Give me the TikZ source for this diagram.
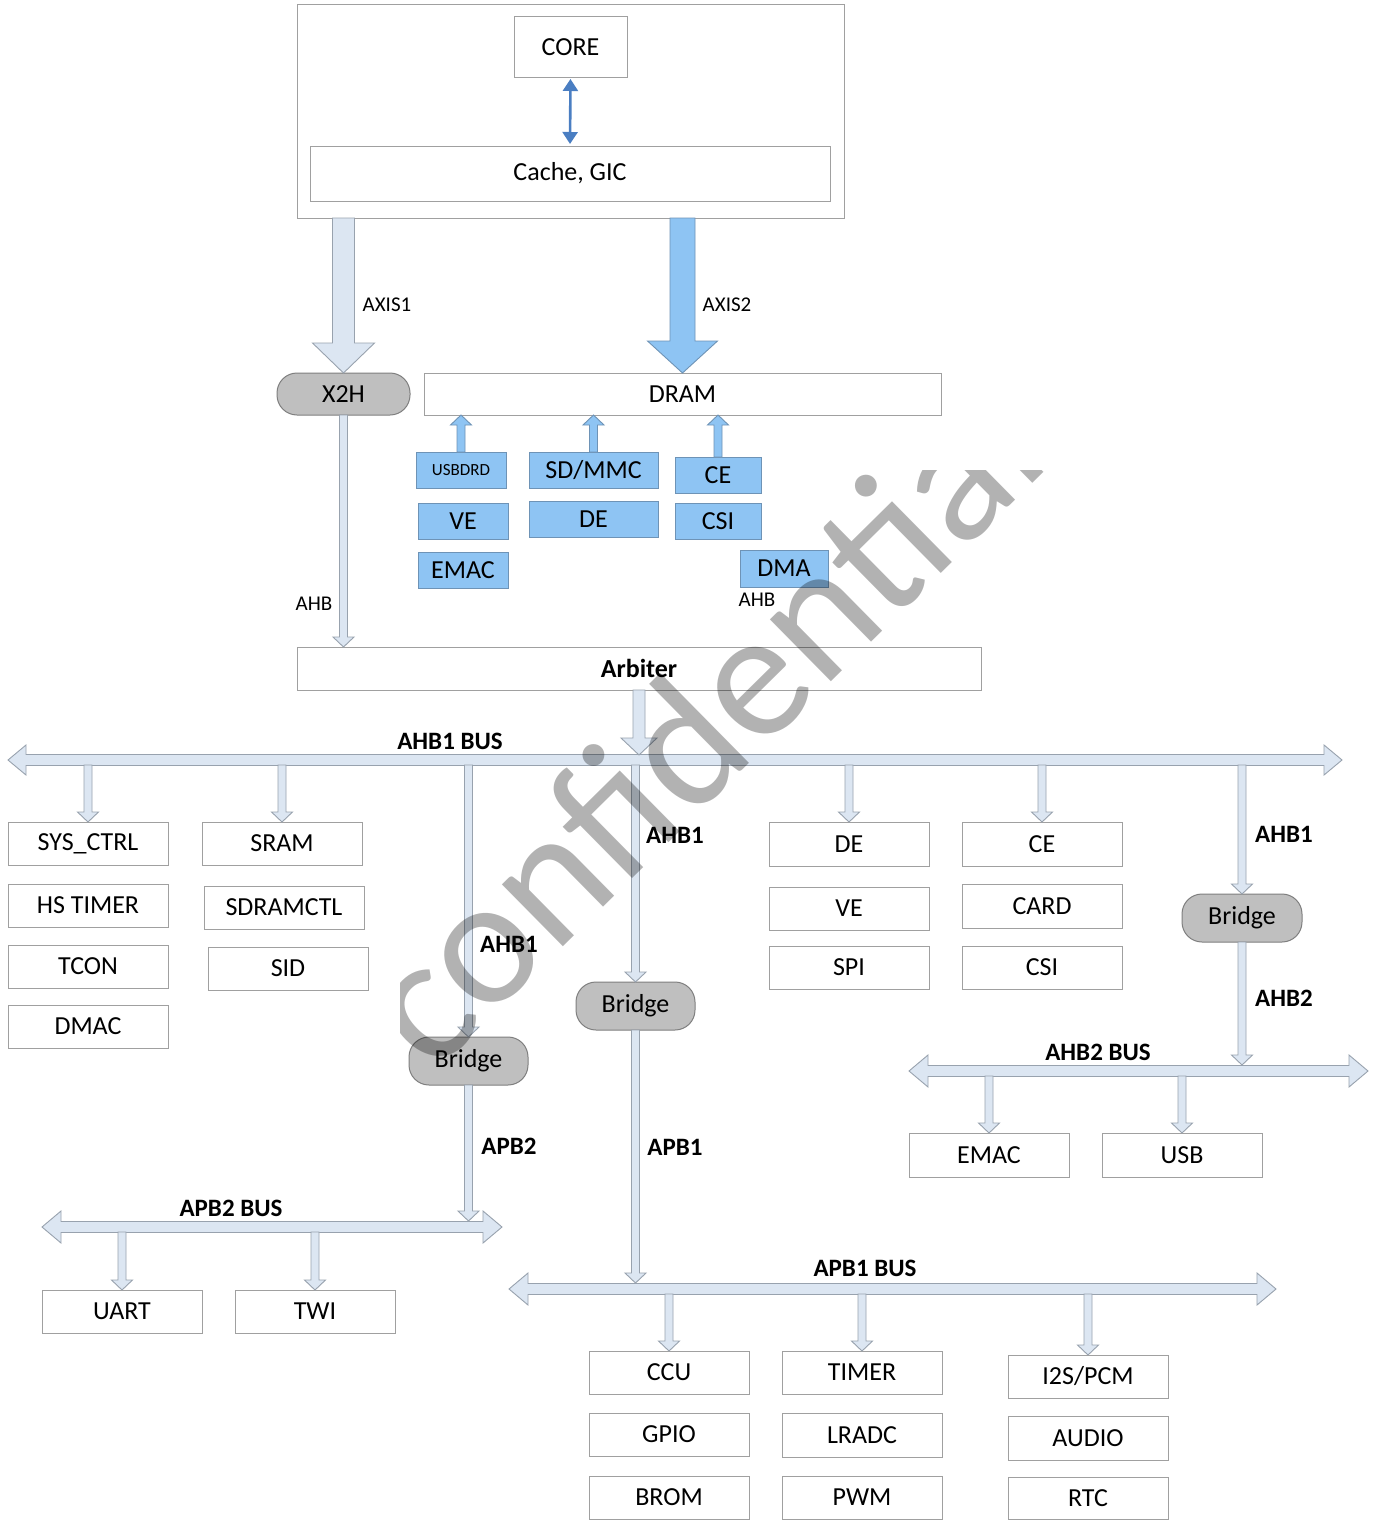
\documentclass[tikz,border=0pt]{standalone}
\usepackage{fontspec}
\setmainfont{Carlito}
\usetikzlibrary{calc,arrows.meta}
\pgfdeclarelayer{bg}
\pgfsetlayers{bg,main}
\definecolor{lightfill}{HTML}{DCE6F2}
\definecolor{lightline}{HTML}{98A2AE}
\definecolor{boxline}{HTML}{A0A0A0}
\definecolor{bluefill}{HTML}{8EC4F3}
\definecolor{blueline}{HTML}{6E93B6}
\definecolor{coreblue}{HTML}{4A7EC2}
\definecolor{pillfill}{HTML}{BFBFBF}
\definecolor{pillline}{HTML}{7F7F7F}
\newcommand\fsz[1]{\fontsize{#1}{#1}\selectfont}
\newcommand\bx[7][plain]{%
  \pgfmathsetmacro\bxcx{(#3+#5)/2}%
  \pgfmathsetmacro\bxcy{(#4+#6)/2}%
  \pgfmathsetmacro\bxw{#5-#3}%
  \pgfmathsetmacro\bxh{#6-#4}%
  \node[#1, minimum width=\bxw pt, minimum height=\bxh pt] (#2) at (\bxcx,\bxcy) {#7};}
% single block arrow: style, start, tip, shaft half, head half, head length
\newcommand\blockarrow[6]{%
  \coordinate (baA) at #2; \coordinate (baB) at #3;
  \coordinate (baH) at ($(baB)!#6!(baA)$);
  \draw[#1] ($(baA)!#4!90:(baB)$) -- ($(baH)!#4!-90:(baA)$) -- ($(baH)!#5!-90:(baA)$) -- (baB)
    -- ($(baH)!#5!90:(baA)$) -- ($(baH)!#4!90:(baA)$) -- ($(baA)!#4!-90:(baB)$) -- cycle;}
% double block arrow (bus)
\newcommand\busarrow[6]{%
  \coordinate (bbA) at #2; \coordinate (bbB) at #3;
  \coordinate (bbH1) at ($(bbA)!#6!(bbB)$); \coordinate (bbH2) at ($(bbB)!#6!(bbA)$);
  \draw[#1] (bbA) -- ($(bbH1)!#5!90:(bbB)$) -- ($(bbH1)!#4!90:(bbB)$) -- ($(bbH2)!#4!-90:(bbA)$)
    -- ($(bbH2)!#5!-90:(bbA)$) -- (bbB) -- ($(bbH2)!#5!90:(bbA)$) -- ($(bbH2)!#4!90:(bbA)$)
    -- ($(bbH1)!#4!-90:(bbB)$) -- ($(bbH1)!#5!-90:(bbB)$) -- cycle;}
\begin{document}
\begin{tikzpicture}[x=1pt,y=-1pt,
  every node/.style={inner sep=0pt, outer sep=0pt},
  plain/.style={draw=boxline, line width=1pt, fill=white, font=\fsz{26}},
  bluebox/.style={draw=blueline, line width=1pt, fill=bluefill, font=\fsz{26}},
  pill/.style={draw=pillline, line width=1pt, fill=pillfill, rounded corners=20pt, font=\fsz{26}},
  lbl/.style={font=\fsz{21}},
  blbl/.style={font=\bfseries\fsz{25}},
  light/.style={draw=lightline, fill=lightfill, line width=0.9pt, line join=miter},
  bluearr/.style={draw=blueline, fill=bluefill, line width=0.9pt, line join=miter}]
\useasboundingbox[fill=white] (0,0) rectangle (1383,1520);

% ---------- top part ----------
\bx{top}{297}{5}{844}{218}{}
\bx{core}{514}{17}{627}{77}{CORE}
\bx{cache}{310}{146}{830}{201}{Cache, GIC}
\draw[coreblue, line width=2.6pt, {Triangle[length=12pt,width=15pt]}-{Triangle[length=12pt,width=15pt]}, shorten <=2pt, shorten >=2pt] (core.south) -- (cache.north);

\bx[pill]{x2h}{277}{373}{410}{415}{X2H}
\bx{dram}{424}{373}{941}{415}{DRAM}

\blockarrow{light}{(x2h.north |- top.south)}{(x2h.north)}{11pt}{31pt}{30pt}
\blockarrow{bluearr}{(dram.north |- top.south)}{(dram.north)}{12.5pt}{35pt}{32pt}
\node[lbl] (laxis1) at (387,305) {AXIS1};
\node[lbl] (laxis2) at (727,305) {AXIS2};

% DMA-side blue boxes
\bx[bluebox,font=\fsz{17}]{usb}{416}{452}{506}{488}{USBDRD}
\bx[bluebox]{bve}{418}{503}{508}{539}{VE}
\bx[bluebox]{bemac}{418}{552}{508}{588}{EMAC}
\bx[bluebox]{sdmmc}{529}{452}{658}{488}{SD/MMC}
\bx[bluebox]{bde}{529}{501}{658}{537}{DE}
\bx[bluebox]{bce}{675}{457}{761}{493}{CE}
\bx[bluebox]{bcsi}{675}{503}{761}{539}{CSI}
\bx[bluebox]{dma}{740}{550}{828}{587}{DMA}

\bx{arb}{297}{647}{981}{690}{\textbf{Arbiter}}

\blockarrow{bluearr}{(usb.north)}{(usb.north |- dram.south)}{4pt}{10.5pt}{10pt}
\blockarrow{bluearr}{(sdmmc.north)}{(sdmmc.north |- dram.south)}{4pt}{10.5pt}{10pt}
\blockarrow{bluearr}{(bce.north)}{(bce.north |- dram.south)}{4pt}{10.5pt}{10pt}
\begin{pgfonlayer}{bg}
\blockarrow{bluearr}{(dma.north)}{(dma.north |- dram.south)}{4pt}{10.5pt}{10pt}
\blockarrow{light}{(dma.south)}{(dma.south |- arb.north)}{4pt}{10.5pt}{10pt}
\end{pgfonlayer}
\blockarrow{light}{(x2h.south)}{(x2h.south |- arb.north)}{4pt}{10.5pt}{10pt}
\node[lbl] (lahbL) at (314,604) {AHB};
\node[lbl] (lahbR) at (757,600) {AHB};

% ---------- AHB1 bus ----------
\coordinate (ahbL) at (8,760);
\coordinate (ahbR) at (1342,760);
\busarrow{light}{(ahbL)}{(ahbR)}{5.5pt}{15pt}{18pt}
\node[blbl] (lahb1bus) at (450,741) {AHB1 BUS};
\blockarrow{light}{(arb.south)}{($(arb.south |- ahbL)+(0,-5)$)}{6pt}{18pt}{17pt}

\bx{sysctrl}{8}{822}{168}{865}{SYS\_CTRL}
\bx{hstimer}{8}{884}{168}{927}{HS TIMER}
\bx{tcon}{8}{945}{168}{988}{TCON}
\bx{dmac}{8}{1005}{168}{1048}{DMAC}
\bx{sram}{202}{822}{362}{865}{SRAM}
\bx{sdramctl}{204}{886}{364}{929}{SDRAMCTL}
\bx{sid}{208}{947}{368}{990}{SID}
\bx{de}{769}{822}{929}{866}{DE}
\bx{ve}{769}{887}{929}{930}{VE}
\bx{spi}{769}{946}{929}{989}{SPI}
\bx{ce}{962}{822}{1122}{866}{CE}
\bx{card}{962}{884}{1122}{928}{CARD}
\bx{csi}{962}{946}{1122}{989}{CSI}

\bx[pill]{brR}{1182}{894}{1302}{942}{Bridge}
\bx[pill]{brM}{576}{982}{695}{1030}{Bridge}
\bx[pill]{brL}{409}{1037}{528}{1085}{Bridge}

\foreach \n in {sysctrl,sram,de,ce,brR,brM,brL}{
  \blockarrow{light}{($(\n.north |- ahbL)+(0,5)$)}{(\n.north)}{4pt}{10.5pt}{10pt}
}
\node[blbl] (lahb1m) at (675,835) {AHB1};
\node[blbl] (lahb1l) at (509,944) {AHB1};
\node[blbl] (lahb1r) at (1284,834) {AHB1};

% ---------- AHB2 bus ----------
\coordinate (ahb2L) at (909,1071);
\coordinate (ahb2R) at (1368,1071);
\busarrow{light}{(ahb2L)}{(ahb2R)}{5.5pt}{16pt}{19pt}
\node[blbl] (lahb2bus) at (1098,1052) {AHB2 BUS};
\blockarrow{light}{(brR.south)}{($(brR.south |- ahb2L)+(0,-6)$)}{4pt}{10.5pt}{10pt}
\node[blbl] (lahb2) at (1284,998) {AHB2};
\bx{emac}{909}{1133}{1069}{1177}{EMAC}
\bx{usbw}{1102}{1133}{1262}{1177}{USB}
\foreach \n in {emac,usbw}{
  \blockarrow{light}{($(\n.north |- ahb2L)+(0,5)$)}{(\n.north)}{4pt}{10.5pt}{10pt}
}

% ---------- APB2 bus ----------
\coordinate (apb2L) at (42,1227);
\coordinate (apb2R) at (502,1227);
\busarrow{light}{(apb2L)}{(apb2R)}{5.5pt}{16pt}{19pt}
\node[blbl] (lapb2bus) at (231,1208) {APB2 BUS};
\blockarrow{light}{(brL.south)}{($(brL.south |- apb2L)+(0,-6)$)}{4pt}{10.5pt}{10pt}
\node[blbl] (lapb2) at (509,1146) {APB2};
\bx{uart}{42}{1290}{202}{1333}{UART}
\bx{twi}{235}{1290}{395}{1333}{TWI}
\foreach \n in {uart,twi}{
  \blockarrow{light}{($(\n.north |- apb2L)+(0,5)$)}{(\n.north)}{4pt}{10.5pt}{10pt}
}

% ---------- APB1 bus ----------
\coordinate (apb1L) at (509,1289);
\coordinate (apb1R) at (1276,1289);
\busarrow{light}{(apb1L)}{(apb1R)}{5.5pt}{16pt}{19pt}
\node[blbl] (lapb1bus) at (865,1268) {APB1 BUS};
\blockarrow{light}{(brM.south)}{($(brM.south |- apb1L)+(0,-6)$)}{4pt}{10.5pt}{10pt}
\node[blbl] (lapb1) at (675,1147) {APB1};
\bx{ccu}{589}{1351}{749}{1394}{CCU}
\bx{gpio}{589}{1413}{749}{1456}{GPIO}
\bx{brom}{589}{1476}{749}{1519}{BROM}
\bx{timer}{782}{1351}{942}{1394}{TIMER}
\bx{lradc}{782}{1413}{942}{1457}{LRADC}
\bx{pwm}{782}{1476}{942}{1519}{PWM}
\bx{i2s}{1008}{1355}{1168}{1398}{I2S/PCM}
\bx{audio}{1008}{1416}{1168}{1460}{AUDIO}
\bx{rtc}{1008}{1477}{1168}{1519}{RTC}
\foreach \n in {ccu,timer,i2s}{
  \blockarrow{light}{($(\n.north |- apb1L)+(0,5)$)}{(\n.north)}{4pt}{10.5pt}{10pt}
}

% ---------- watermark ----------
\begin{scope}
\clip (400,470) rectangle (1383,1520);
\node[rotate=44.6, text=black, text opacity=0.3, font=\fsz{182}] (wm) at (699,725) {confidential};
\end{scope}
\end{tikzpicture}
\end{document}
